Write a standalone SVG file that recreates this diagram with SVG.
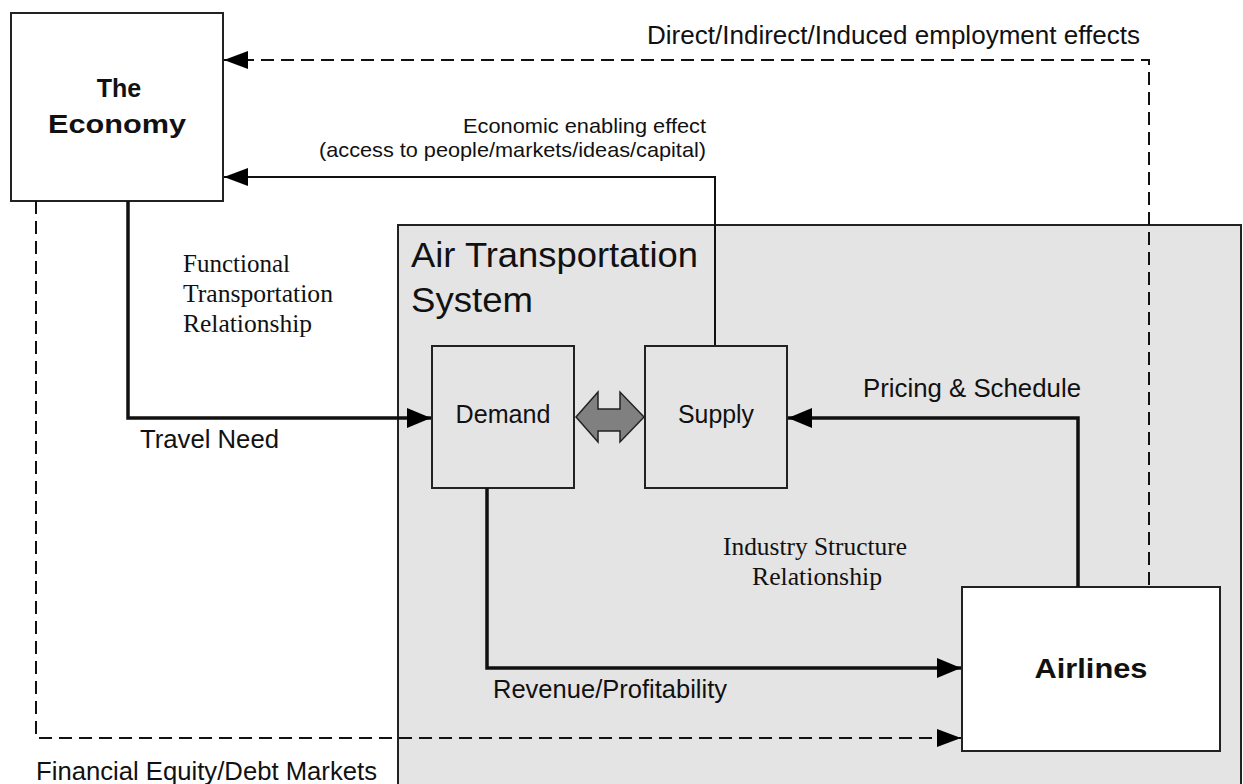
<svg xmlns="http://www.w3.org/2000/svg" width="1243" height="784" viewBox="0 0 1243 784">
<style>
.box{stroke:#222;stroke-width:2}
.sans{font-family:"Liberation Sans",Arial,sans-serif;fill:#111}
.serif{font-family:"Liberation Serif","Times New Roman",serif;fill:#111}
.bold{font-weight:bold}
.c{fill:none;stroke:#111}
.thin{stroke-width:2}
.thick{stroke-width:3.5}
.dash{stroke-dasharray:13 7}
</style>
<defs>
<marker id="ah" markerUnits="userSpaceOnUse" markerWidth="24" markerHeight="20" refX="24" refY="10" orient="auto">
<path d="M0,0 L24,10 L0,20 Z" fill="#000"/>
</marker>
<marker id="ahs" markerUnits="userSpaceOnUse" markerWidth="24" markerHeight="18" refX="24" refY="9" orient="auto">
<path d="M0,0 L24,9 L0,18 Z" fill="#000"/>
</marker>
</defs>
<rect width="1243" height="784" fill="#fff"/>
<g id="ats">
<rect class="box" x="398" y="225" width="843" height="580" fill="#e4e4e4"/>
<text class="sans" x="411" y="267" font-size="35" textLength="287" lengthAdjust="spacingAndGlyphs">Air Transportation</text>
<text class="sans" x="411" y="312" font-size="35" textLength="122" lengthAdjust="spacingAndGlyphs">System</text>
</g>
<g id="economy">
<rect class="box" x="11" y="13" width="212" height="188" fill="#fff"/>
<text class="sans bold" x="119" y="97" font-size="25" text-anchor="middle">The</text>
<text class="sans bold" x="117" y="133" font-size="25" text-anchor="middle" textLength="138" lengthAdjust="spacingAndGlyphs">Economy</text>
</g>
<g id="demand">
<rect class="box" x="432" y="346" width="142" height="142" fill="#e4e4e4"/>
<text class="sans" x="503" y="423" font-size="25" text-anchor="middle" textLength="95" lengthAdjust="spacingAndGlyphs">Demand</text>
</g>
<g id="supply">
<rect class="box" x="645" y="346" width="142" height="142" fill="#e4e4e4"/>
<text class="sans" x="716" y="423" font-size="25" text-anchor="middle" textLength="76" lengthAdjust="spacingAndGlyphs">Supply</text>
</g>
<g id="airlines">
<rect class="box" x="962" y="587" width="258" height="164" fill="#fff"/>
<text class="sans bold" x="1091" y="678" font-size="27" text-anchor="middle" textLength="113" lengthAdjust="spacingAndGlyphs">Airlines</text>
</g>
<g id="connectors">
<polyline class="c thin dash" points="1149,585 1149,60 224,60" marker-end="url(#ahs)"/>
<polyline class="c thin" points="715,345 715,177 224,177" marker-end="url(#ahs)"/>
<polyline class="c thick" points="128,201 128,418 431,418" marker-end="url(#ah)"/>
<polyline class="c thick" points="1078,587 1078,418 788,418" marker-end="url(#ah)"/>
<polyline class="c thick" points="487,488 487,668 961,668" marker-end="url(#ah)"/>
<polyline class="c thin dash" points="36,201 36,738 961,738" marker-end="url(#ahs)"/>
<polygon points="576,417 598,392 598,409 620,409 620,392 644,417 620,442 620,431 598,431 598,442" fill="#808080" stroke="#222" stroke-width="1.5"/>
</g>
<g id="labels">
<text class="sans" x="1140" y="44" font-size="25" text-anchor="end" textLength="493" lengthAdjust="spacingAndGlyphs">Direct/Indirect/Induced employment effects</text>
<text class="sans" x="706" y="133" font-size="21" text-anchor="end" textLength="243" lengthAdjust="spacingAndGlyphs">Economic enabling effect</text>
<text class="sans" x="706" y="157" font-size="21" text-anchor="end" textLength="387" lengthAdjust="spacingAndGlyphs">(access to people/markets/ideas/capital)</text>
<text class="serif" x="183" y="272" font-size="25" textLength="107" lengthAdjust="spacingAndGlyphs">Functional</text>
<text class="serif" x="183" y="302" font-size="25" textLength="150" lengthAdjust="spacingAndGlyphs">Transportation</text>
<text class="serif" x="183" y="332" font-size="25" textLength="129" lengthAdjust="spacingAndGlyphs">Relationship</text>
<text class="sans" x="140" y="448" font-size="25" textLength="139" lengthAdjust="spacingAndGlyphs">Travel Need</text>
<text class="sans" x="863" y="397" font-size="25" textLength="218" lengthAdjust="spacingAndGlyphs">Pricing &amp; Schedule</text>
<text class="serif" x="815" y="555" font-size="25" text-anchor="middle" textLength="184" lengthAdjust="spacingAndGlyphs">Industry Structure</text>
<text class="serif" x="817" y="585" font-size="25" text-anchor="middle" textLength="130" lengthAdjust="spacingAndGlyphs">Relationship</text>
<text class="sans" x="493" y="698" font-size="25" textLength="234" lengthAdjust="spacingAndGlyphs">Revenue/Profitability</text>
<text class="sans" x="36" y="780" font-size="25" textLength="341" lengthAdjust="spacingAndGlyphs">Financial Equity/Debt Markets</text>
</g>
</svg>
